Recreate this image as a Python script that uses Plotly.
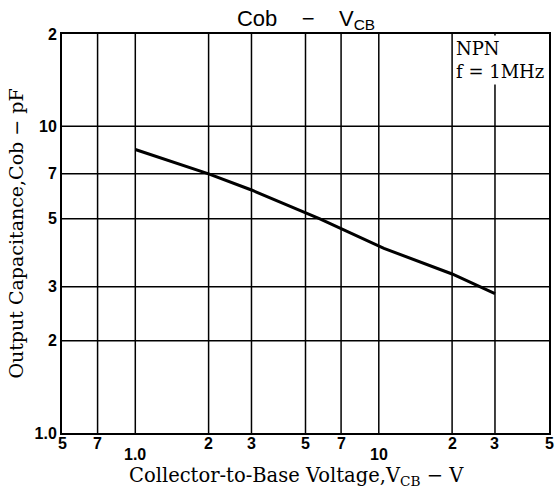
import math
import plotly.graph_objects as go

vcb = [1.0, 2.0, 3.0, 5.7, 10.5, 20.0, 30.0]
cob = [8.4, 7.0, 6.2, 5.0, 4.0, 3.3, 2.85]

x_range = [0.5, 50]
y_range = [1.0, 20]
x_grid = [0.7, 1.0, 2, 3, 5, 7, 10, 20, 30]
y_grid = [2, 3, 5, 7, 10]
x_tickvals = [0.5, 0.7, 2, 3, 5, 7, 20, 30, 50]
x_ticktext = ["5", "7", "2", "3", "5", "7", "2", "3", "5"]
x_low_vals = [1.0, 10]
x_low_text = ["1.0", "10"]
y_tickvals = [1.0, 2, 3, 5, 7, 10, 20]
y_ticktext = ["1.0", "2", "3", "5", "7", "10", "2"]

lx0, lx1 = math.log10(x_range[0]), math.log10(x_range[1])


def xfrac(v):
    return (math.log10(v) - lx0) / (lx1 - lx0)


tickfont = dict(family="Liberation Sans", size=16, color="black", weight="bold")
serif = "DejaVu Serif"

fig = go.Figure()
fig.add_trace(go.Scatter(x=vcb, y=cob, mode="lines",
                         line=dict(color="black", width=3), showlegend=False))

for xv in x_grid:
    fig.add_shape(type="line", xref="x", yref="paper", x0=xv, x1=xv, y0=0, y1=1,
                  line=dict(color="black", width=1.5), layer="below")
for yv in y_grid:
    fig.add_shape(type="line", xref="paper", yref="y", x0=0, x1=1, y0=yv, y1=yv,
                  line=dict(color="black", width=1.5), layer="below")

for xv, tx in zip(x_tickvals, x_ticktext):
    fig.add_annotation(x=xfrac(xv), y=0, xref="paper", yref="paper", text=tx, showarrow=False,
                       xanchor="center", yanchor="middle", yshift=-10, font=tickfont)
for xv, tx in zip(x_low_vals, x_low_text):
    fig.add_annotation(x=xfrac(xv), y=0, xref="paper", yref="paper", text=tx, showarrow=False,
                       xanchor="center", yanchor="middle", yshift=-21, font=tickfont)

fig.add_annotation(x=xfrac(20), y=1, xref="paper", yref="paper", xanchor="left", yanchor="top",
                   text="NPN<br>f = 1MHz", showarrow=False, align="left",
                   bgcolor="white", borderpad=2, xshift=1, yshift=-1,
                   font=dict(family=serif, size=18, color="black"))

fig.update_layout(
    width=559, height=497,
    margin=dict(l=62, r=10, t=34, b=64),
    paper_bgcolor="white", plot_bgcolor="white",
    title=dict(text="Cob&nbsp;&nbsp;&nbsp;&nbsp;−&nbsp;&nbsp;&nbsp;&nbsp;V<sub>CB</sub>",
               x=306 / 559, xanchor="center", y=1 - 18 / 497, yanchor="middle",
               font=dict(family="Liberation Sans", size=22, color="black")),
    xaxis=dict(type="log", range=[lx0, lx1], showgrid=False, zeroline=False,
               showticklabels=False, ticks="", automargin=False,
               showline=True, mirror=True, linecolor="black", linewidth=2),
    yaxis=dict(type="log", range=[math.log10(y_range[0]), math.log10(y_range[1])],
               showgrid=False, zeroline=False,
               tickvals=y_tickvals, ticktext=y_ticktext, ticks="", ticklen=0, tickfont=tickfont,
               automargin=False,
               showline=True, mirror=True, linecolor="black", linewidth=2,
               title=dict(text="Output Capacitance,Cob − pF", standoff=6,
                          font=dict(family=serif, size=19, color="black"))),
)

fig.add_annotation(x=0.5, y=0, xref="paper", yref="paper", xanchor="center", yanchor="middle",
                   yshift=-43, xshift=-9,
                   text="Collector-to-Base Voltage,V<sub>CB</sub> − V", showarrow=False,
                   font=dict(family=serif, size=19.5, color="black"))

fig.write_html("out.html", post_script="document.body.style.margin='0';",
               config={"displayModeBar": False})
